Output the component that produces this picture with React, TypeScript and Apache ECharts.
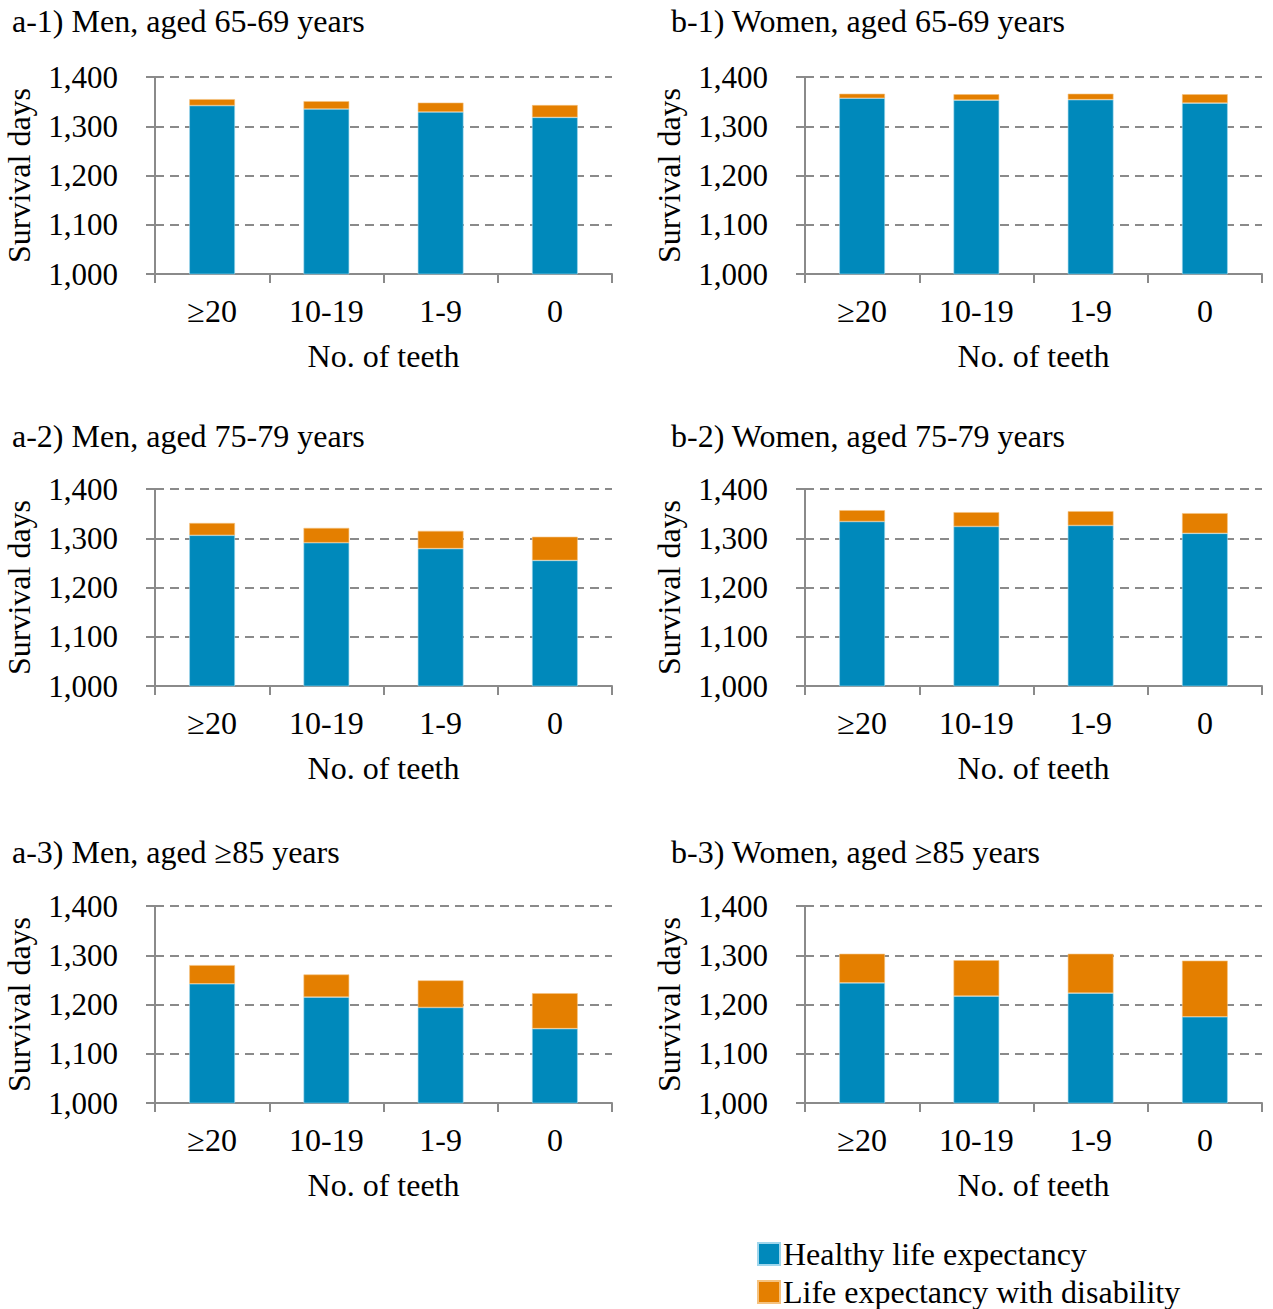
import React, { useEffect, useRef } from "react";
import * as echarts from "echarts";

const categories = ["≥20", "10-19", "1-9", "0"];
const seriesNames = ["Healthy life expectancy", "Life expectancy with disability"];

const panelTitles = [
  "a-1) Men, aged 65-69 years",
  "b-1) Women, aged 65-69 years",
  "a-2) Men, aged 75-79 years",
  "b-2) Women, aged 75-79 years",
  "a-3) Men, aged ≥85 years",
  "b-3) Women, aged ≥85 years",
];

// Healthy life expectancy (days)
const healthyA1 = [1342, 1335, 1329, 1318];
const healthyB1 = [1357, 1353, 1354, 1347];
const healthyA2 = [1306, 1291, 1279, 1255];
const healthyB2 = [1334, 1324, 1326, 1310];
const healthyA3 = [1242, 1215, 1194, 1151];
const healthyB3 = [1244, 1217, 1223, 1175];

// Life expectancy with disability (days)
const disabledA1 = [13, 16, 19, 25];
const disabledB1 = [9, 12, 12, 18];
const disabledA2 = [25, 30, 36, 48];
const disabledB2 = [23, 29, 29, 41];
const disabledA3 = [38, 46, 55, 72];
const disabledB3 = [59, 73, 80, 114];

const healthyAll = [healthyA1, healthyB1, healthyA2, healthyB2, healthyA3, healthyB3];
const disabledAll = [disabledA1, disabledB1, disabledA2, disabledB2, disabledA3, disabledB3];

const yMin = 1000;
const yMax = 1400;
const yInterval = 100;

const BLUE = "#0089BB";
const ORANGE = "#E47F00";
const AXIS = "#8a8a8a";
const FONT = "'Liberation Serif', 'Times New Roman', serif";

export default function App() {
  const ref = useRef<HTMLDivElement>(null);

  useEffect(() => {
    if (!ref.current) return;
    const chart = echarts.init(ref.current, undefined, { renderer: "svg" });

    const colLeft = [155, 805];
    const rowTop = [77, 489, 906];
    const gridW = 457;
    const gridH = 197;
    const titleLeft = [12, 671];
    const titleTop = [5, 420, 836];

    const grids: any[] = [];
    const xAxes: any[] = [];
    const yAxes: any[] = [];
    const series: any[] = [];
    const titles: any[] = [];

    for (let i = 0; i < 6; i++) {
      const c = i % 2;
      const r = Math.floor(i / 2);
      grids.push({ left: colLeft[c], top: rowTop[r], width: gridW, height: gridH });
      titles.push({
        text: panelTitles[i],
        left: titleLeft[c],
        top: titleTop[r],
        padding: 0,
        textStyle: { fontFamily: FONT, fontSize: 32, fontWeight: "normal", color: "#000" },
      });
      xAxes.push({
        type: "category",
        gridIndex: i,
        data: categories,
        boundaryGap: true,
        axisLine: { lineStyle: { color: AXIS, width: 2 } },
        axisTick: { show: true, length: 9, inside: false, lineStyle: { color: AXIS, width: 2 } },
        axisLabel: { margin: 21, fontFamily: FONT, fontSize: 32, color: "#000" },
        name: "No. of teeth",
        nameLocation: "middle",
        nameGap: 66,
        nameTextStyle: { fontFamily: FONT, fontSize: 32, color: "#000" },
        splitLine: { show: false },
      });
      yAxes.push({
        type: "value",
        gridIndex: i,
        min: yMin,
        max: yMax,
        interval: yInterval,
        axisLine: { show: true, lineStyle: { color: AXIS, width: 2 } },
        axisTick: { show: true, length: 9, inside: false, lineStyle: { color: AXIS, width: 2 } },
        axisLabel: {
          margin: 37,
          fontFamily: FONT,
          fontSize: 31,
          color: "#000",
          formatter: (v: number) => v.toLocaleString("en-US"),
        },
        splitLine: { show: true, lineStyle: { color: AXIS, width: 2, type: [9, 6] } },
        name: "Survival days",
        nameLocation: "middle",
        nameGap: 120,
        nameTextStyle: { fontFamily: FONT, fontSize: 32, color: "#000" },
      });
      series.push({
        name: seriesNames[0],
        type: "bar",
        stack: "s" + i,
        xAxisIndex: i,
        yAxisIndex: i,
        barWidth: "40%",
        data: healthyAll[i],
        itemStyle: { color: BLUE, borderColor: "#9fd6ec", borderWidth: 0.6 },
      });
      series.push({
        name: seriesNames[1],
        type: "bar",
        stack: "s" + i,
        xAxisIndex: i,
        yAxisIndex: i,
        barWidth: "40%",
        data: disabledAll[i],
        itemStyle: { color: ORANGE, borderColor: "#f5c27f", borderWidth: 0.6 },
      });
    }

    const legendTops = [1238, 1276];
    const legends = seriesNames.map((n, k) => ({
      left: 757,
      top: legendTops[k],
      padding: 0,
      itemWidth: 22,
      itemHeight: 22,
      icon: "rect",
      selectedMode: false,
      data: [n],
      textStyle: {
        fontFamily: FONT,
        fontSize: 32,
        lineHeight: 30,
        color: "#000",
        padding: [0, 0, 0, -2],
      },
    }));

    chart.setOption({
      animation: false,
      backgroundColor: "#fff",
      title: titles,
      grid: grids,
      xAxis: xAxes,
      yAxis: yAxes,
      series,
      legend: legends,
    });

    return () => chart.dispose();
  }, []);

  return (
    <div
      ref={ref}
      style={{ position: "absolute", left: 0, top: 0, width: 1273, height: 1309 }}
    />
  );
}
